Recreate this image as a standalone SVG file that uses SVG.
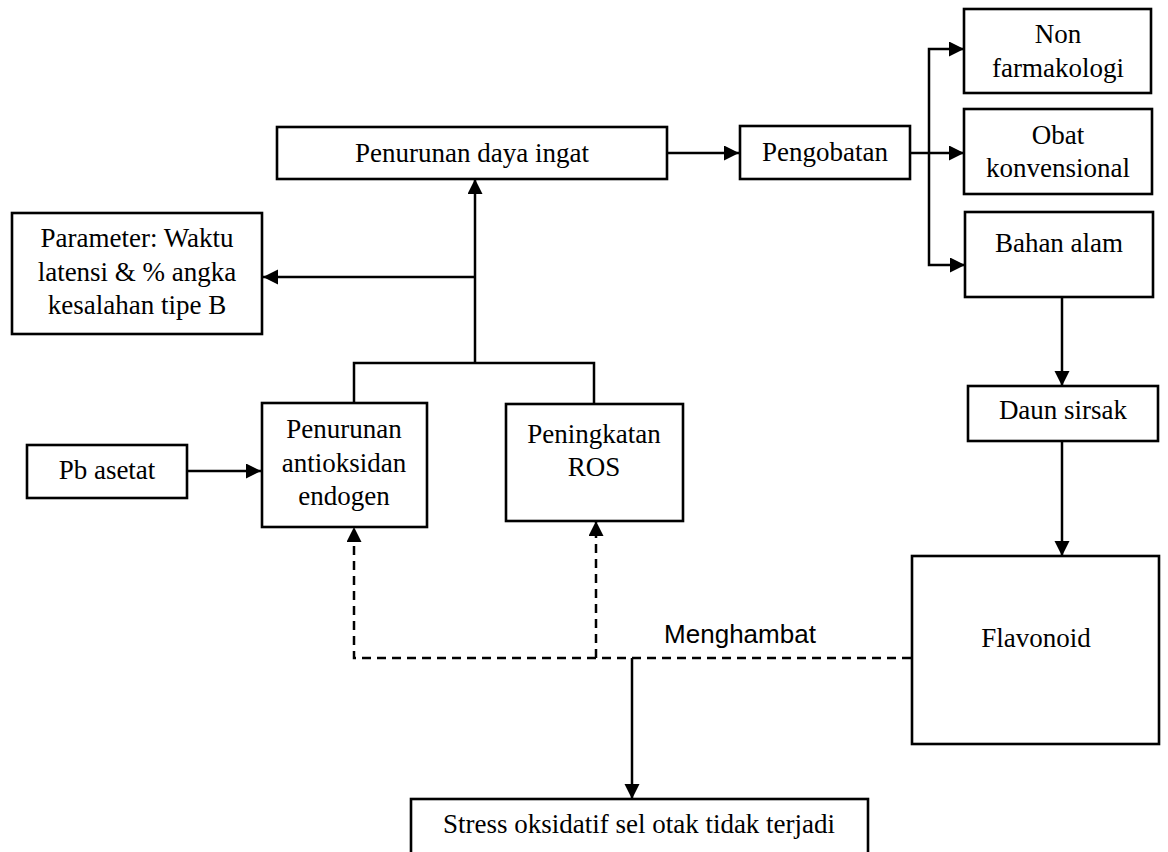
<svg xmlns="http://www.w3.org/2000/svg" width="1168" height="852" viewBox="0 0 1168 852">
<style>
.box{fill:#fff;stroke:#000;stroke-width:2.6}
.t{font-family:"Liberation Serif","Times New Roman",serif;font-size:27px;fill:#000;text-anchor:middle}
.s{font-family:"Liberation Sans",Arial,sans-serif;font-size:26px;fill:#000;text-anchor:middle}
.c{fill:none;stroke:#000;stroke-width:2.5}
.d{fill:none;stroke:#000;stroke-width:2.5;stroke-dasharray:9 6}
</style>
<defs>
<marker id="ah" markerUnits="userSpaceOnUse" markerWidth="16" markerHeight="16" refX="15" refY="7.5" orient="auto">
<path d="M0,0 L15,7.5 L0,15 z" fill="#000" stroke="none"/>
</marker>
</defs>
<rect width="1168" height="852" fill="#fff"/>
<g id="connectors">
<path class="c" d="M667,153 H739" marker-end="url(#ah)"/>
<path class="c" d="M910,153 H964" marker-end="url(#ah)"/>
<path class="c" d="M929,153 V49 H964" marker-end="url(#ah)"/>
<path class="c" d="M929,153 V265 H965" marker-end="url(#ah)"/>
<path class="c" d="M1062,297 V386" marker-end="url(#ah)"/>
<path class="c" d="M1062,441 V556" marker-end="url(#ah)"/>
<path class="c" d="M354,403 V363 H594 V404"/>
<path class="c" d="M475,363 V179" marker-end="url(#ah)"/>
<path class="c" d="M475,277 H263" marker-end="url(#ah)"/>
<path class="c" d="M187,471 H261" marker-end="url(#ah)"/>
<path class="d" d="M911,658 H354 V527" marker-end="url(#ah)"/>
<path class="d" d="M596,658 V521" marker-end="url(#ah)"/>
<path class="c" d="M632,658 V799" marker-end="url(#ah)"/>
</g>
<g id="penurunan-daya-ingat">
<rect class="box" x="277" y="127" width="390" height="52"/>
<text class="t" x="472" y="162">Penurunan daya ingat</text>
</g>
<g id="pengobatan">
<rect class="box" x="740" y="126" width="170" height="53"/>
<text class="t" x="825" y="161">Pengobatan</text>
</g>
<g id="non-farmakologi">
<rect class="box" x="964" y="9" width="187" height="84"/>
<text class="t" x="1058" y="43">Non</text>
<text class="t" x="1058" y="77">farmakologi</text>
</g>
<g id="obat-konvensional">
<rect class="box" x="964" y="109" width="188" height="85"/>
<text class="t" x="1058" y="144">Obat</text>
<text class="t" x="1058" y="177">konvensional</text>
</g>
<g id="bahan-alam">
<rect class="box" x="965" y="212" width="188" height="85"/>
<text class="t" x="1059" y="252">Bahan alam</text>
</g>
<g id="daun-sirsak">
<rect class="box" x="968" y="386" width="190" height="55"/>
<text class="t" x="1063" y="419">Daun sirsak</text>
</g>
<g id="flavonoid">
<rect class="box" x="912" y="556" width="247" height="188"/>
<text class="t" x="1036" y="647">Flavonoid</text>
</g>
<g id="parameter">
<rect class="box" x="12" y="213" width="250" height="121"/>
<text class="t" x="137" y="247">Parameter: Waktu</text>
<text class="t" x="137" y="281">latensi &amp; % angka</text>
<text class="t" x="137" y="314">kesalahan tipe B</text>
</g>
<g id="pb-asetat">
<rect class="box" x="27" y="445" width="160" height="53"/>
<text class="t" x="107" y="479">Pb asetat</text>
</g>
<g id="penurunan-antioksidan">
<rect class="box" x="262" y="403" width="165" height="124"/>
<text class="t" x="344" y="438">Penurunan</text>
<text class="t" x="344" y="472">antioksidan</text>
<text class="t" x="344" y="505">endogen</text>
</g>
<g id="peningkatan-ros">
<rect class="box" x="506" y="404" width="177" height="117"/>
<text class="t" x="594" y="443">Peningkatan</text>
<text class="t" x="594" y="476">ROS</text>
</g>
<g id="menghambat-label">
<text class="s" x="740" y="643">Menghambat</text>
</g>
<g id="stress-oksidatif">
<rect class="box" x="411" y="799" width="457" height="55"/>
<text class="t" x="639" y="833">Stress oksidatif sel otak tidak terjadi</text>
</g>
</svg>
